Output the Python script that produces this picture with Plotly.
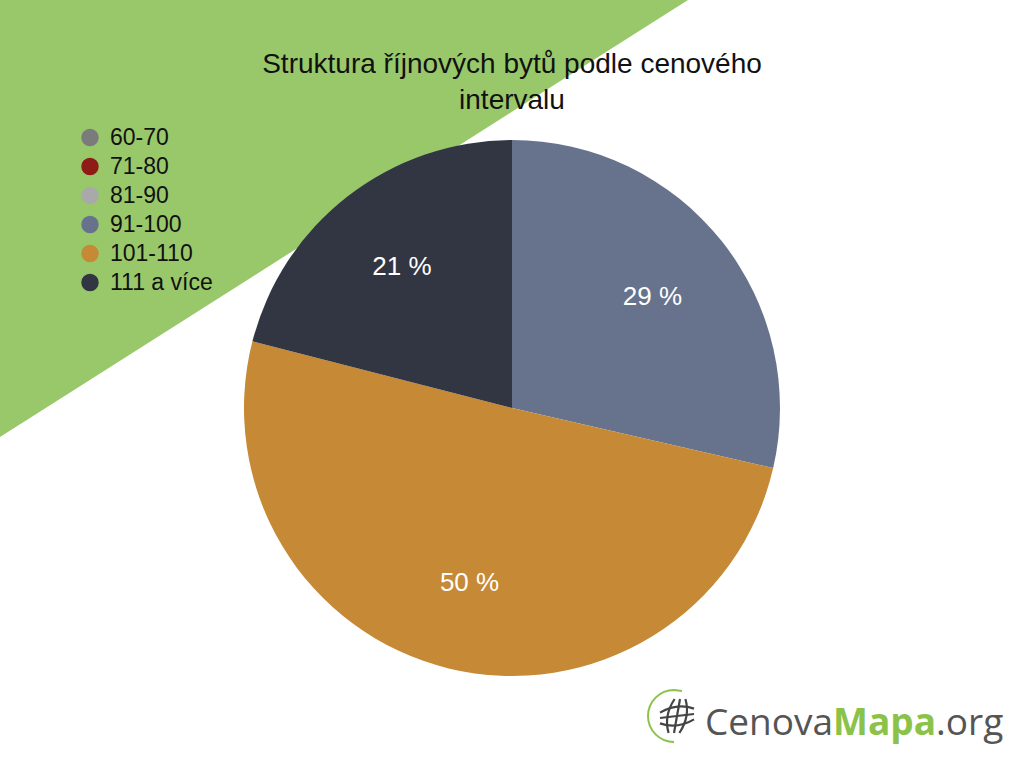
import plotly.graph_objects as go

categories = ["60-70", "71-80", "81-90", "91-100", "101-110", "111 a více"]
shares = [0, 0, 0, 28.6, 50.4, 21.0]
colors = ["#7a7c7c", "#8f1b17", "#a9a9a9", "#67738c", "#c68935", "#323643"]
title_text = "Struktura říjnových bytů podle cenového<br>intervalu"

W, H = 1024, 768
FONT = "Liberation Sans"

labels_txt = [f"{int(v + 0.5)} %" if v > 0 else "" for v in shares]
pie_domain = dict(x=[(512 - 268) / W, (512 + 268) / W], y=[(H - 408 - 268) / H, (H - 408 + 268) / H])

fig = go.Figure()
fig.add_trace(go.Pie(
    labels=categories, values=shares, textinfo="none",
    marker=dict(colors=colors, line=dict(width=0)),
    sort=False, direction="clockwise", rotation=0,
    showlegend=False, hoverinfo="label+percent", domain=pie_domain,
))
# transparent ring carrying the percentage labels further out
fig.add_trace(go.Pie(
    labels=categories, values=shares, text=labels_txt, hole=0.34,
    textinfo="text", textposition="inside", insidetextorientation="horizontal",
    textfont=dict(color="white", size=26, family=FONT),
    marker=dict(colors=["rgba(0,0,0,0)"] * len(categories), line=dict(width=0)),
    sort=False, direction="clockwise", rotation=0,
    showlegend=False, hoverinfo="skip", domain=pie_domain,
))
for c, col in zip(categories, colors):
    fig.add_trace(go.Scatter(x=[None], y=[None], mode="markers",
                             name=f"<span style='font-size:23px'>{c}</span>",
                             marker=dict(symbol="circle", size=18, color=col,
                                         line=dict(color=col, width=1.5))))

def px(x): return x / W
def py(y): return 1 - y / H
def P(x, y): return f"{px(x)} {py(y)}"

shapes = [dict(type="path", xref="paper", yref="paper",
               path=f"M 0 1 L {px(688)} 1 L 0 {py(437)} Z",
               fillcolor="#99c86a", line=dict(width=0), layer="below")]
# globe icon for logo
gx, gy, gr = 677, 716, 17
for d in (-9, 0, 9):
    shapes.append(dict(type="path", xref="paper", yref="paper",
                       path=f"M {P(gx + d * 0.6 + 3, gy - gr)} Q {P(gx + d * 1.5, gy)} {P(gx + d * 0.6 - 3, gy + gr)}",
                       line=dict(color="#444444", width=2.2)))
    shapes.append(dict(type="path", xref="paper", yref="paper",
                       path=f"M {P(gx - gr, gy + d * 0.6 + 2)} Q {P(gx, gy + d * 1.5)} {P(gx + gr, gy + d * 0.6 - 2)}",
                       line=dict(color="#444444", width=2.2)))
cx, cy, r = 674, 716, 26
k = 0.5523 * r
shapes.append(dict(type="path", xref="paper", yref="paper",
                   path=(f"M {P(cx + 8, cy - r + 1)} L {P(cx, cy - r)} "
                         f"C {P(cx - k, cy - r)} {P(cx - r, cy - k)} {P(cx - r, cy)} "
                         f"C {P(cx - r, cy + k)} {P(cx - k, cy + r)} {P(cx, cy + r)}"),
                   line=dict(color="#8bc34a", width=2)))

fig.update_layout(
    width=W, height=H,
    margin=dict(l=0, r=0, t=0, b=0),
    paper_bgcolor="white", plot_bgcolor="rgba(0,0,0,0)",
    xaxis=dict(visible=False), yaxis=dict(visible=False),
    title=dict(text=title_text, x=0.5, xanchor="center", y=py(73), yanchor="top",
               font=dict(family=FONT, size=28, color="#111111")),
    legend=dict(x=px(70), y=py(118), xanchor="left", yanchor="top",
                bgcolor="rgba(0,0,0,0)", font=dict(family=FONT, size=20, color="#111111"),
                tracegroupgap=0, itemsizing="trace"),
    shapes=shapes,
    annotations=[dict(xref="paper", yref="paper", x=px(703), y=py(720), xanchor="left", yanchor="middle",
                      showarrow=False,
                      text="<span style='color:#555555'>Cenova</span><b><span style='color:#8bc34a'>Mapa</span></b><span style='color:#555555'>.org</span>",
                      font=dict(family="Open Sans", size=37))],
)
fig.write_html("out.html", config={"displayModeBar": False},
               post_script="document.body.style.margin='0';")
